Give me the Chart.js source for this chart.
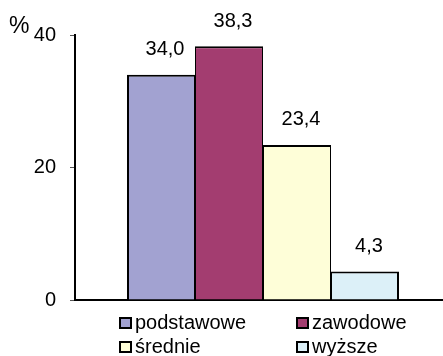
<!DOCTYPE html>
<html>
<head>
<meta charset="utf-8">
<script src="https://cdn.jsdelivr.net/npm/chart.js@4/dist/chart.umd.min.js"></script>
<style>
  html, body { margin: 0; padding: 0; background: #fff; }
  #wrap { width: 443px; height: 356px; overflow: hidden; position: relative; }
  #wrap canvas { position: absolute; left: 0; top: 0; }
</style>
</head>
<body>
<div id="wrap"><canvas id="wyksztalcenie" width="451" height="356"></canvas></div>
<script>
// Wykształcenie - udział procentowy
const kategorie = ['podstawowe', 'zawodowe', 'średnie', 'wyższe'];
const wartosci = [34.0, 38.3, 23.4, 4.3];
const kolory = ['#a2a2d1', '#a33d70', '#fefed8', '#dcf0f8'];
const osY = [0, 20, 40];

const czcionka = '"Liberation Sans", Arial, sans-serif';

// etykiety wartości nad słupkami (przecinek dziesiętny)
const etykietyWartosci = {
  id: 'etykietyWartosci',
  afterDatasetsDraw(chart) {
    const ctx = chart.ctx;
    ctx.save();
    ctx.font = '20px ' + czcionka;
    ctx.fillStyle = '#000';
    ctx.textAlign = 'center';
    ctx.textBaseline = 'middle';
    chart.data.datasets.forEach((ds, i) => {
      const bar = chart.getDatasetMeta(i).data[0];
      const tekst = ds.data[0].toFixed(1).replace('.', ',');
      ctx.fillText(tekst, bar.x + 4, bar.y - 25);
    });
    ctx.restore();
  }
};

// znak % obok osi i legenda w układzie 2 x 2
const legendaSiatka = {
  id: 'legendaSiatka',
  afterDraw(chart) {
    const ctx = chart.ctx;
    ctx.save();
    ctx.fillStyle = '#000';
    ctx.font = '23px ' + czcionka;
    ctx.textAlign = 'left';
    ctx.textBaseline = 'alphabetic';
    ctx.fillText('%', 9, 33);

    const kolumny = [120, 297];
    const wiersze = [318, 342];
    ctx.font = '20px ' + czcionka;
    chart.data.datasets.forEach((ds, i) => {
      const x = kolumny[i % 2];
      const y = wiersze[Math.floor(i / 2)];
      ctx.fillStyle = ds.backgroundColor;
      ctx.fillRect(x, y, 11, 10);
      ctx.strokeStyle = '#000';
      ctx.lineWidth = 2;
      ctx.strokeRect(x, y, 11, 10);
      ctx.fillStyle = '#000';
      ctx.fillText(ds.label, x + 15, y + 11);
    });
    ctx.restore();
  }
};

const ostatni = kategorie.length - 1;

new Chart(document.getElementById('wyksztalcenie'), {
  type: 'bar',
  data: {
    labels: [''],
    datasets: kategorie.map((k, i) => ({
      label: k,
      data: [wartosci[i]],
      backgroundColor: kolory[i],
      borderColor: '#000',
      // sąsiednie słupki dzielą jedną krawędź
      borderWidth: { top: 2, bottom: 0, left: i === 0 ? 2 : 1, right: i === ostatni ? 2 : 1 },
      borderSkipped: false,
      inflateAmount: 0
    }))
  },
  options: {
    responsive: false,
    animation: false,
    devicePixelRatio: 1,
    layout: { padding: { top: 35, bottom: 56, left: 0, right: 0 } },
    datasets: { bar: { categoryPercentage: 272 / 376, barPercentage: 1 } },
    plugins: {
      legend: { display: false },
      tooltip: { enabled: false }
    },
    scales: {
      x: {
        ticks: { display: false },
        grid: { display: false },
        border: { display: true, color: '#000', width: 2 },
        afterFit(scale) { scale.height = 0; }
      },
      y: {
        min: 0,
        max: 40,
        afterBuildTicks(scale) { scale.ticks = osY.map(v => ({ value: v })); },
        ticks: {
          color: '#000',
          font: { size: 20, family: czcionka },
          padding: 14
        },
        grid: {
          drawOnChartArea: false,
          drawTicks: true,
          tickLength: 5,
          tickColor: '#555'
        },
        border: { display: true, color: '#000', width: 2 },
        afterFit(scale) { scale.width = 75; }
      }
    }
  },
  plugins: [etykietyWartosci, legendaSiatka]
});
</script>
</body>
</html>
